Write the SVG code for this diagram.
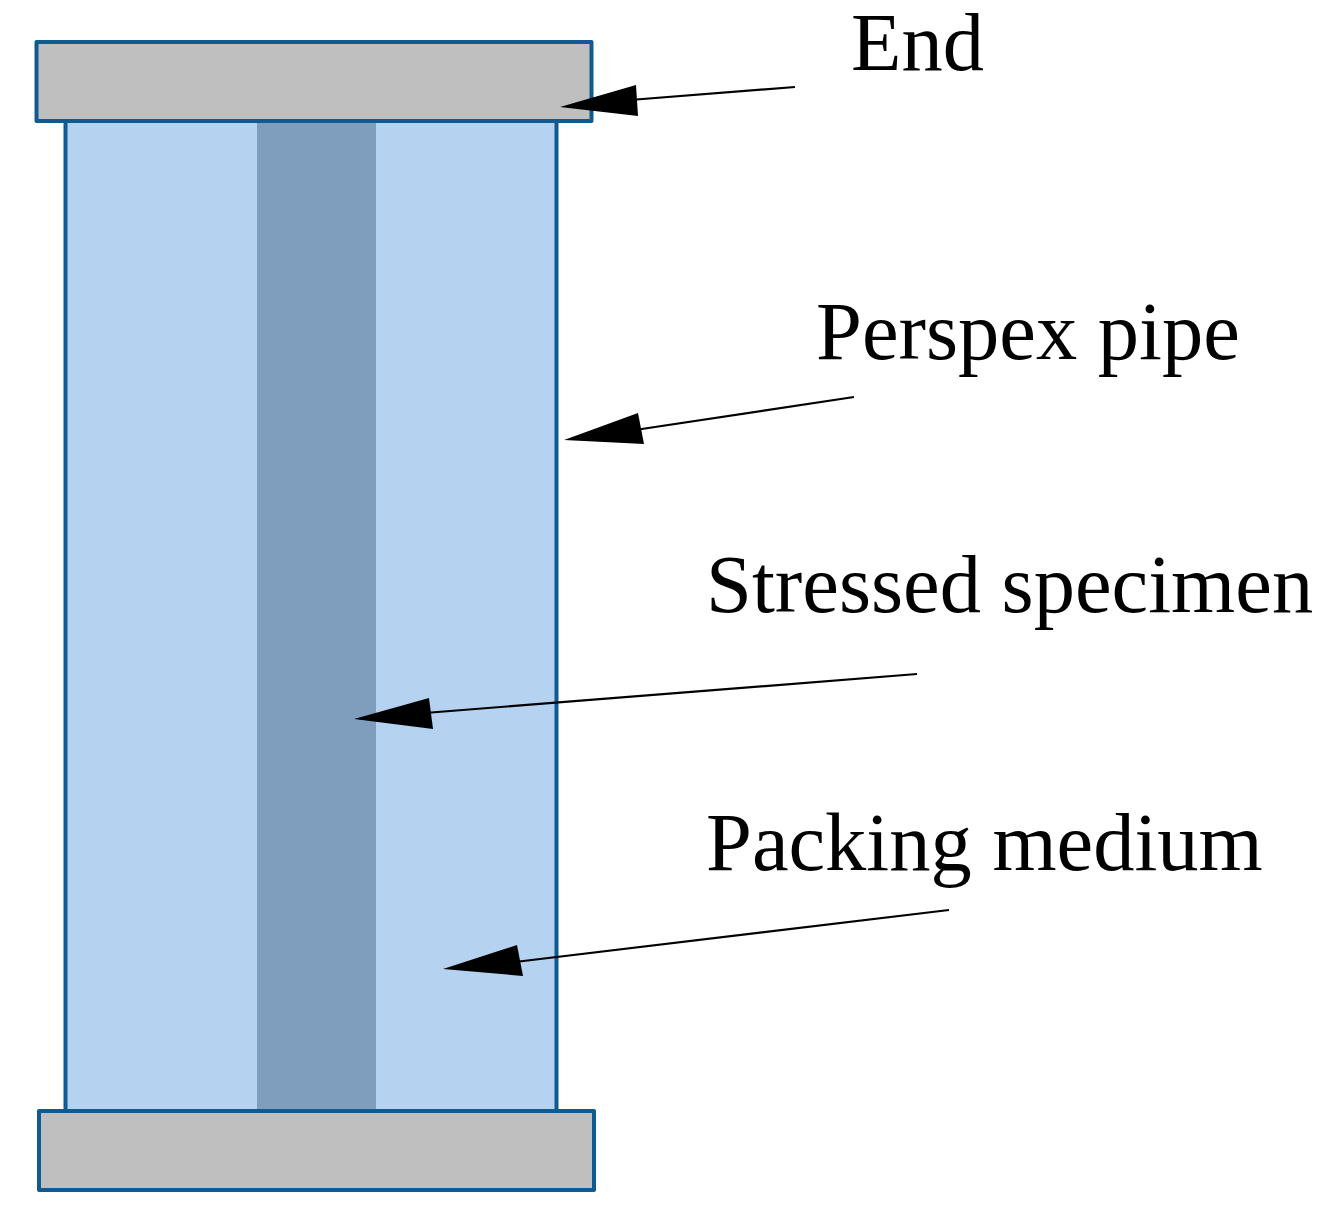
<svg xmlns="http://www.w3.org/2000/svg" width="1318" height="1208" viewBox="0 0 1318 1208">
<style>
.end{fill:#bfbfbf;stroke:#0f5a8f;stroke-width:4;stroke-linejoin:round}
.pipe{fill:#b5d2f1;stroke:#0f5a8f;stroke-width:4}
.spec{fill:#7f9ebd}
.lbl{font-family:"Liberation Serif","Times New Roman",serif;font-size:82.500px;fill:#000}
.ln{stroke:#000;stroke-width:2.200;fill:none}
.hd{fill:#000}
</style>
<rect width="1318" height="1208" fill="#fff"/>
<g id="pipe"><rect class="pipe" x="65.500" y="121" width="491" height="990"/></g>
<g id="specimen"><rect class="spec" x="257" y="123" width="119" height="987"/></g>
<g id="end-top"><rect class="end" x="36.500" y="42" width="555" height="79"/></g>
<g id="end-bottom"><rect class="end" x="39" y="1111" width="555" height="79"/></g>
<g id="labels">
<text class="lbl" x="851" y="70">End</text>
<text class="lbl" x="816" y="359">Perspex pipe</text>
<text class="lbl" x="706" y="612">Stressed specimen</text>
<text class="lbl" x="706" y="870">Packing medium</text>
</g>
<g id="connectors">
<line class="ln" x1="795" y1="87" x2="630" y2="100"/><polygon class="hd" points="560,107 636,85 638,116"/>
<line class="ln" x1="854" y1="397" x2="635" y2="430"/><polygon class="hd" points="564,440 638,413 644,444"/>
<line class="ln" x1="917" y1="674" x2="425" y2="713"/><polygon class="hd" points="354,719 429,698 433,729"/>
<line class="ln" x1="949" y1="910" x2="515" y2="962"/><polygon class="hd" points="443,969 517,945 523,976"/>
</g>
</svg>
